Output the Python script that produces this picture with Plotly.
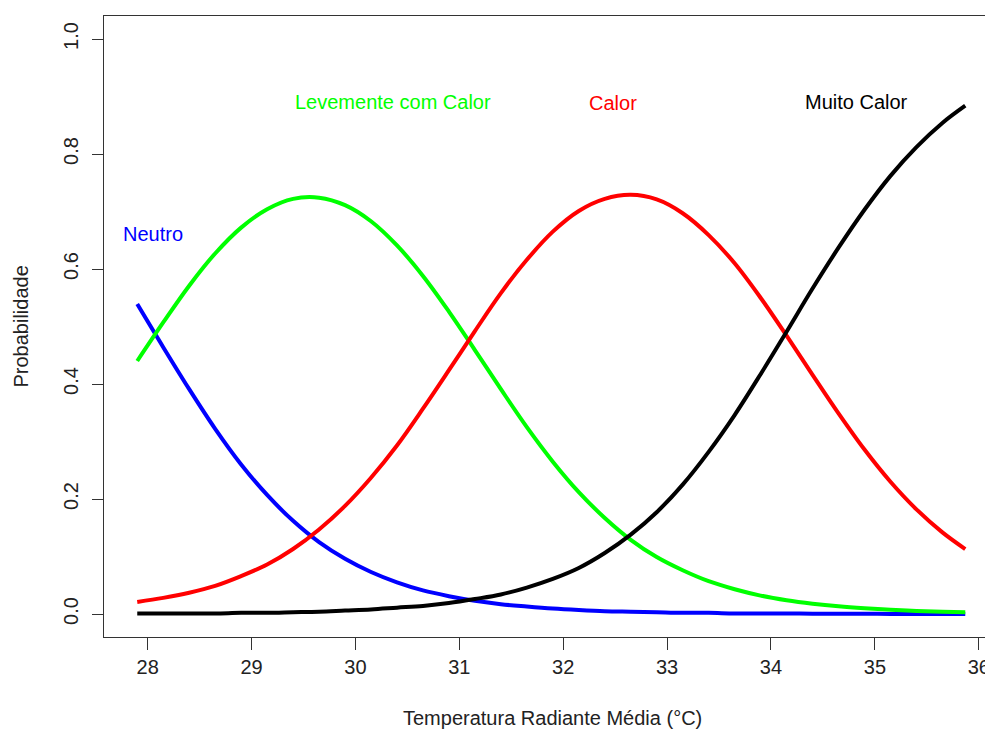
import plotly.graph_objects as go

# Temperature (x) sample points
temp = [27.9, 28.15, 28.4, 28.65, 28.9, 29.15, 29.4, 29.65, 29.9, 30.15, 30.4,
        30.65, 30.9, 31.15, 31.4, 31.65, 31.9, 32.15, 32.4, 32.65, 32.9, 33.15,
        33.4, 33.65, 33.9, 34.15, 34.4, 34.65, 34.9, 35.15, 35.4, 35.65, 35.87]

neutro = [0.539, 0.464, 0.391, 0.322, 0.260, 0.207, 0.162, 0.125, 0.096, 0.073, 0.055,
          0.041, 0.031, 0.023, 0.017, 0.013, 0.0095, 0.007, 0.005, 0.004, 0.003, 0.002,
          0.002, 0.001, 0.001, 0.001, 0.0005, 0.0004, 0.0003, 0.0002, 0.0002, 0.0001, 0.0001]

levemente = [0.440, 0.507, 0.571, 0.627, 0.672, 0.704, 0.722, 0.724, 0.711, 0.683, 0.641,
             0.588, 0.526, 0.459, 0.391, 0.325, 0.265, 0.212, 0.167, 0.129, 0.099, 0.076,
             0.057, 0.043, 0.032, 0.024, 0.018, 0.0134, 0.010, 0.0074, 0.0054, 0.0041, 0.0031]

calor = [0.021, 0.028, 0.037, 0.049, 0.066, 0.086, 0.113, 0.147, 0.188, 0.237, 0.293,
         0.357, 0.424, 0.492, 0.558, 0.616, 0.665, 0.701, 0.722, 0.729, 0.721, 0.697,
         0.659, 0.610, 0.550, 0.484, 0.416, 0.349, 0.286, 0.230, 0.182, 0.142, 0.113]

muito_calor = [0.001, 0.001, 0.001, 0.001, 0.002, 0.002, 0.003, 0.004, 0.006, 0.008, 0.011,
               0.014, 0.019, 0.026, 0.034, 0.046, 0.061, 0.080, 0.106, 0.138, 0.177, 0.225,
               0.282, 0.346, 0.417, 0.491, 0.566, 0.637, 0.703, 0.762, 0.812, 0.854, 0.884]

series_names = ["Neutro", "Levemente com Calor", "Calor", "Muito Calor"]
series_colors = ["#0000FF", "#00FF00", "#FF0000", "#000000"]
series_values = [neutro, levemente, calor, muito_calor]

# curve label positions (data coordinates)
label_x = [28.05, 30.36, 32.48, 34.82]
label_y = [0.661, 0.891, 0.888, 0.891]

x_ticks = [28, 29, 30, 31, 32, 33, 34, 35, 36]
y_ticks = [0.0, 0.2, 0.4, 0.6, 0.8, 1.0]
y_ticktext = ["0.0", "0.2", "0.4", "0.6", "0.8", "1.0"]

FONT = "Liberation Sans, Arial, sans-serif"

fig = go.Figure()
for name, color, vals in zip(series_names, series_colors, series_values):
    fig.add_trace(go.Scatter(
        x=temp, y=vals, mode="lines", name=name,
        line=dict(color=color, width=4, shape="spline", smoothing=1.0),
        showlegend=False, hoverinfo="skip"))

for name, color, lx, ly in zip(series_names, series_colors, label_x, label_y):
    fig.add_annotation(x=lx, y=ly, xref="x", yref="y", text=name, showarrow=False,
                       font=dict(family=FONT, size=20, color=color),
                       xanchor="center", yanchor="middle")

# axis titles
fig.add_annotation(x=0.509, y=-0.13, xref="paper", yref="paper",
                   text="Temperatura Radiante Média (°C)", showarrow=False,
                   font=dict(family=FONT, size=20, color="#222222"),
                   xanchor="center", yanchor="middle")
fig.add_annotation(x=-0.0953, y=0.5, xref="paper", yref="paper",
                   text="Probabilidade", showarrow=False, textangle=-90,
                   font=dict(family=FONT, size=20, color="#222222"),
                   xanchor="center", yanchor="middle")

fig.update_layout(
    width=985, height=733,
    margin=dict(l=104, r=0, t=16, b=96, pad=0, autoexpand=False),
    plot_bgcolor="white", paper_bgcolor="white",
    font=dict(family=FONT, size=20, color="#222222"),
)
fig.update_xaxes(range=[27.58, 36.06], tickvals=x_ticks, ticks="outside", ticklen=12,
                 tickwidth=1, tickcolor="#333333", showline=True, linecolor="#333333",
                 linewidth=1, mirror=True, showgrid=False, zeroline=False,
                 ticklabeloverflow="allow", automargin=False,
                 tickfont=dict(family=FONT, size=20, color="#222222"))
fig.update_yaxes(range=[-0.04, 1.04], tickvals=y_ticks, ticktext=y_ticktext,
                 ticks="outside", ticklen=11, tickwidth=1, tickcolor="#333333",
                 showline=True, linecolor="#333333", linewidth=1, mirror=True,
                 showgrid=False, zeroline=False, tickangle=-90,
                 ticklabelstandoff=6, automargin=False,
                 tickfont=dict(family=FONT, size=20, color="#222222"))

fig.write_html("out.html")
